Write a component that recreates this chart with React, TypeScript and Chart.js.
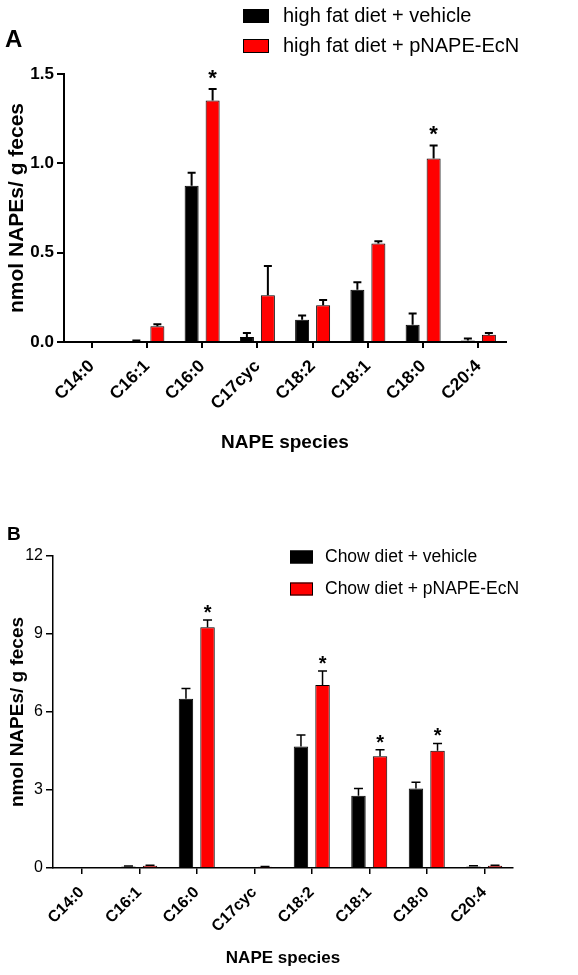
import React, { useEffect, useRef } from "react";
import { Chart, registerables } from "chart.js";

Chart.register(...registerables);

const categories = ["C14:0", "C16:1", "C16:0", "C17cyc", "C18:2", "C18:1", "C18:0", "C20:4"];

// Panel A: high fat diet
const hfdVehicle = [0, 0.005, 0.874, 0.028, 0.125, 0.293, 0.097, 0.009];
const hfdVehicleErr = [0, 0.003, 0.073, 0.022, 0.024, 0.041, 0.062, 0.01];
const hfdPnape = [0, 0.088, 1.351, 0.262, 0.205, 0.551, 1.027, 0.041];
const hfdPnapeErr = [0, 0.012, 0.065, 0.164, 0.03, 0.013, 0.073, 0.009];
const hfdVehicleSig = [false, false, false, false, false, false, false, false];
const hfdPnapeSig = [false, false, true, false, false, false, true, false];

// Panel B: chow diet
const chowVehicle = [0, 0.06, 6.51, 0, 4.67, 2.78, 3.06, 0.06];
const chowVehicleErr = [0, 0.02, 0.39, 0, 0.45, 0.28, 0.24, 0.03];
const chowPnape = [0, 0.09, 9.26, 0.05, 7.04, 4.3, 4.51, 0.09];
const chowPnapeErr = [0, 0.02, 0.28, 0.01, 0.54, 0.25, 0.28, 0.02];
const chowVehicleSig = [false, false, false, false, false, false, false, false];
const chowPnapeSig = [false, false, true, false, true, true, true, false];

const hfdLegend = ["high fat diet + vehicle", "high fat diet + pNAPE-EcN"];
const chowLegend = ["Chow diet + vehicle", "Chow diet + pNAPE-EcN"];

const FONT = "'Liberation Sans', Arial, Helvetica, sans-serif";

type PanelCfg = {
  letter: string;
  H: number;
  left: number;
  right: number;
  top: number;
  bottom: number;
  yMax: number;
  yStep: number;
  yDecimals: number;
  yTickFont: any;
  xTickFont: any;
  xTickPad: number;
  yTitleFont: any;
  xTitleFont: any;
  yTitlePad: number;
  xTitleCenter: number;
  axisW: number;
  errW: number;
  capW: number;
  catPct: number;
  barPct: number;
  legend: string[];
  legendBoxX: number;
  legendBoxW: number;
  legendBoxH: number;
  legendTextX: number;
  legendRows: number[];
  legendFont: string;
  letterX: number;
  letterY: number;
  letterFont: string;
  starFont: string;
  starGap: number;
  v1: number[];
  e1: number[];
  s1: boolean[];
  v2: number[];
  e2: number[];
  s2: boolean[];
};

const panelA: PanelCfg = {
  letter: "A",
  H: 480,
  left: 64,
  right: 506,
  top: 74,
  bottom: 342,
  yMax: 1.5,
  yStep: 0.5,
  yDecimals: 1,
  yTickFont: { family: FONT, size: 17, weight: "bold" },
  xTickFont: { family: FONT, size: 17.5, weight: "bold" },
  xTickPad: 8,
  yTitleFont: { family: FONT, size: 21, weight: "bold" },
  xTitleFont: { family: FONT, size: 19, weight: "bold" },
  yTitlePad: 5,
  xTitleCenter: 443,
  axisW: 2,
  errW: 2,
  capW: 8,
  catPct: 0.76,
  barPct: 0.667,
  legend: hfdLegend,
  legendBoxX: 243,
  legendBoxW: 26,
  legendBoxH: 14,
  legendTextX: 283,
  legendRows: [16, 46],
  legendFont: `20px ${FONT}`,
  letterX: 5,
  letterY: 47,
  letterFont: `bold 24px ${FONT}`,
  starFont: `bold 22px ${FONT}`,
  starGap: 4,
  v1: hfdVehicle,
  e1: hfdVehicleErr,
  s1: hfdVehicleSig,
  v2: hfdPnape,
  e2: hfdPnapeErr,
  s2: hfdPnapeSig,
};

const panelB: PanelCfg = {
  letter: "B",
  H: 495,
  left: 53,
  right: 513,
  top: 76,
  bottom: 388,
  yMax: 12,
  yStep: 3,
  yDecimals: 0,
  yTickFont: { family: FONT, size: 16, weight: "normal" },
  xTickFont: { family: FONT, size: 16, weight: "bold" },
  xTickPad: 9,
  yTitleFont: { family: FONT, size: 19, weight: "bold" },
  xTitleFont: { family: FONT, size: 17, weight: "bold" },
  yTitlePad: 6,
  xTitleCenter: 478,
  axisW: 1.5,
  errW: 1.5,
  capW: 9,
  catPct: 0.75,
  barPct: 0.67,
  legend: chowLegend,
  legendBoxX: 290,
  legendBoxW: 23,
  legendBoxH: 13,
  legendTextX: 325,
  legendRows: [77, 109],
  legendFont: `17.5px ${FONT}`,
  letterX: 7,
  letterY: 60,
  letterFont: `bold 19px ${FONT}`,
  starFont: `bold 20px ${FONT}`,
  starGap: 1,
  v1: chowVehicle,
  e1: chowVehicleErr,
  s1: chowVehicleSig,
  v2: chowPnape,
  e2: chowPnapeErr,
  s2: chowPnapeSig,
};

const W = 578;

function buildChart(canvas: HTMLCanvasElement, p: PanelCfg) {
  const colors = ["#000000", "#ff0000"];

  const decorPlugin = {
    id: "decor",
    afterDatasetsDraw(chart: any) {
      const ctx = chart.ctx;
      const yS = chart.scales.y;
      ctx.save();
      chart.data.datasets.forEach((ds: any, i: number) => {
        const meta = chart.getDatasetMeta(i);
        meta.data.forEach((el: any, j: number) => {
          const v = ds.data[j];
          const e = ds.errors[j] || 0;
          const yTop = yS.getPixelForValue(v + e);
          if (e > 0) {
            ctx.strokeStyle = "#000";
            ctx.lineWidth = p.errW;
            ctx.beginPath();
            ctx.moveTo(el.x, el.y);
            ctx.lineTo(el.x, yTop);
            ctx.moveTo(el.x - p.capW / 2, yTop);
            ctx.lineTo(el.x + p.capW / 2, yTop);
            ctx.stroke();
          }
          if (ds.sig[j]) {
            ctx.fillStyle = "#000";
            ctx.font = p.starFont;
            ctx.textAlign = "center";
            ctx.textBaseline = "alphabetic";
            ctx.fillText("*", el.x, yTop - p.starGap);
          }
        });
      });
      ctx.restore();
    },
    afterDraw(chart: any) {
      const ctx = chart.ctx;
      ctx.save();
      // legend
      p.legend.forEach((txt, i) => {
        const cy = p.legendRows[i];
        ctx.fillStyle = colors[i];
        ctx.fillRect(p.legendBoxX, cy - p.legendBoxH / 2, p.legendBoxW, p.legendBoxH);
        ctx.strokeStyle = "#000";
        ctx.lineWidth = 1;
        ctx.strokeRect(p.legendBoxX + 0.5, cy - p.legendBoxH / 2 + 0.5, p.legendBoxW - 1, p.legendBoxH - 1);
        ctx.fillStyle = "#000";
        ctx.font = p.legendFont;
        ctx.textAlign = "left";
        ctx.textBaseline = "middle";
        ctx.fillText(txt, p.legendTextX, cy);
      });
      // panel letter
      ctx.font = p.letterFont;
      ctx.fillStyle = "#000";
      ctx.textAlign = "left";
      ctx.textBaseline = "alphabetic";
      ctx.fillText(p.letter, p.letterX, p.letterY);
      ctx.restore();
    },
  };

  const xTitleLH = p.xTitleFont.size * 1.2;
  const scaleBottom = p.xTitleCenter + xTitleLH / 2;
  const padBottom = p.H - scaleBottom;
  const xHeight = scaleBottom - p.bottom;

  return new Chart(canvas, {
    type: "bar",
    data: {
      labels: categories,
      datasets: [
        {
          label: p.legend[0],
          data: p.v1,
          errors: p.e1,
          sig: p.s1,
          backgroundColor: colors[0],
          borderColor: "#000",
          borderWidth: 1,
        } as any,
        {
          label: p.legend[1],
          data: p.v2,
          errors: p.e2,
          sig: p.s2,
          backgroundColor: colors[1],
          borderColor: "#000",
          borderWidth: 1,
        } as any,
      ],
    },
    options: {
      animation: false,
      responsive: false,
      maintainAspectRatio: false,
      layout: {
        padding: { top: p.top, right: W - p.right, bottom: padBottom, left: 0 },
      },
      datasets: {
        bar: { categoryPercentage: p.catPct, barPercentage: p.barPct },
      },
      plugins: {
        legend: { display: false },
        tooltip: { enabled: false },
      },
      scales: {
        x: {
          grid: {
            offset: false,
            drawOnChartArea: false,
            drawTicks: true,
            tickLength: 6,
            color: "#000",
            lineWidth: p.axisW,
          },
          border: { display: true, color: "#000", width: p.axisW },
          ticks: {
            autoSkip: false,
            minRotation: 45,
            maxRotation: 45,
            color: "#000",
            font: p.xTickFont,
            padding: p.xTickPad,
          },
          title: {
            display: true,
            text: "NAPE species",
            color: "#000",
            font: p.xTitleFont,
            padding: { top: 0, bottom: 0 },
          },
          afterFit: (s: any) => {
            s.height = xHeight;
          },
        },
        y: {
          min: 0,
          max: p.yMax,
          grid: {
            drawOnChartArea: false,
            drawTicks: true,
            tickLength: 7,
            color: "#000",
            lineWidth: p.axisW,
          },
          border: { display: true, color: "#000", width: p.axisW },
          ticks: {
            stepSize: p.yStep,
            color: "#000",
            font: p.yTickFont,
            padding: 3,
            callback: (v: any) => Number(v).toFixed(p.yDecimals),
          },
          title: {
            display: true,
            text: "nmol NAPEs/ g feces",
            color: "#000",
            font: p.yTitleFont,
            padding: { top: p.yTitlePad, bottom: 0 },
          },
          afterFit: (s: any) => {
            s.width = p.left;
          },
        },
      },
    } as any,
    plugins: [decorPlugin],
  });
}

function Panel({ cfg, top }: { cfg: PanelCfg; top: number }) {
  const ref = useRef<HTMLCanvasElement | null>(null);
  useEffect(() => {
    if (!ref.current) return;
    const chart = buildChart(ref.current, cfg);
    return () => chart.destroy();
  }, [cfg]);
  return (
    <canvas
      ref={ref}
      width={W}
      height={cfg.H}
      style={{ position: "absolute", left: 0, top, width: W, height: cfg.H, display: "block" }}
    />
  );
}

export default function App() {
  return (
    <div
      style={{
        position: "absolute",
        left: 0,
        top: 0,
        width: W,
        height: 975,
        background: "#fff",
        overflow: "hidden",
      }}
    >
      <Panel cfg={panelA} top={0} />
      <Panel cfg={panelB} top={480} />
    </div>
  );
}
